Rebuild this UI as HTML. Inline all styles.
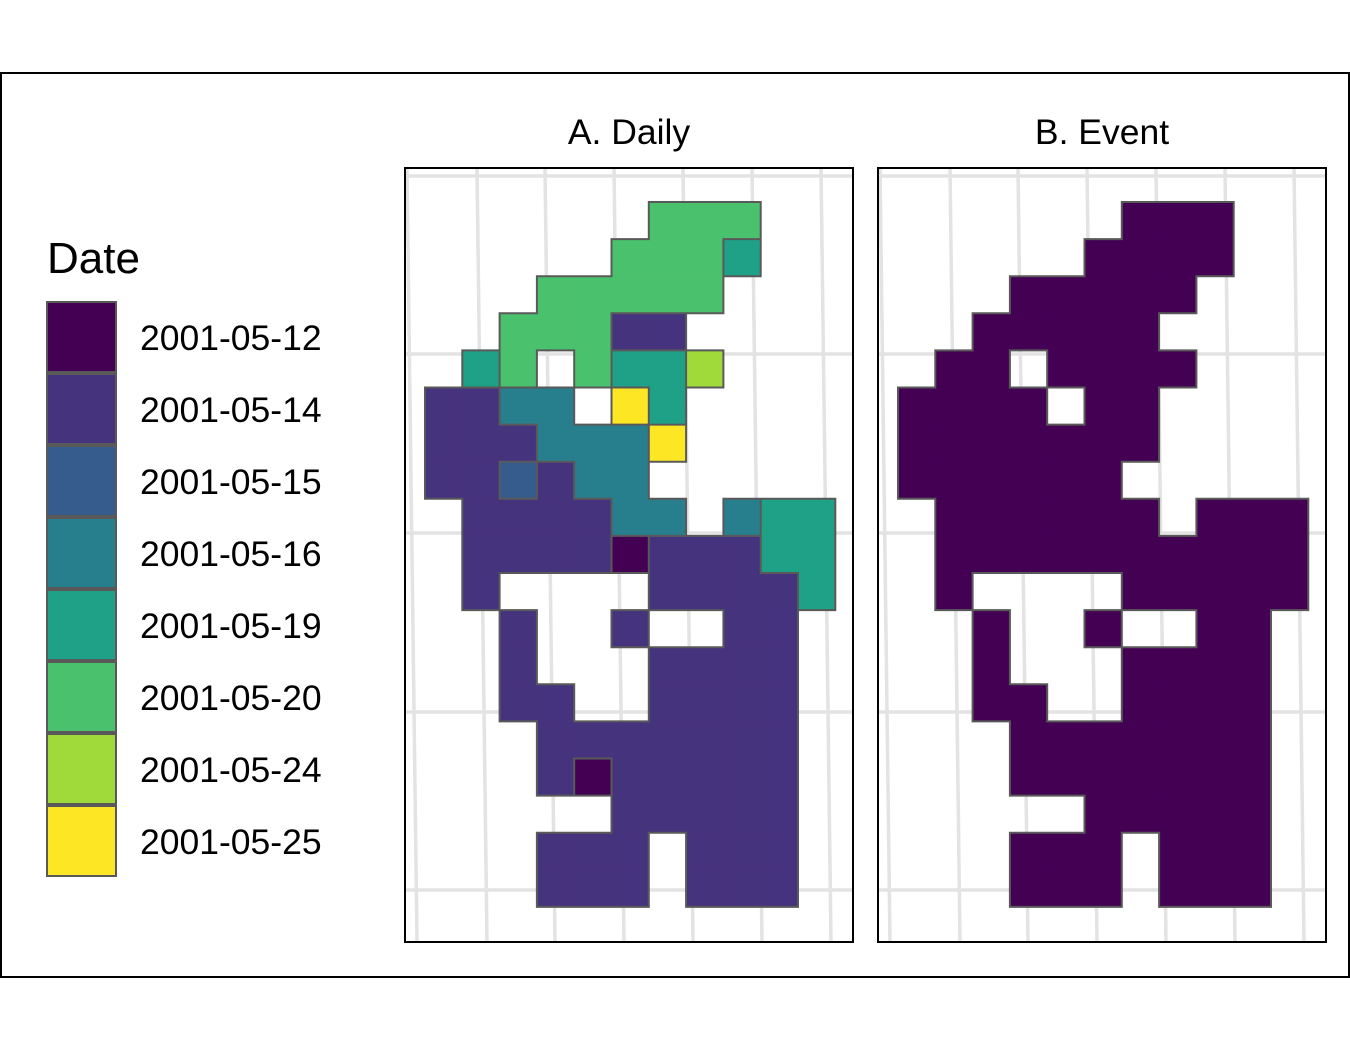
<!DOCTYPE html>
<html><head><meta charset="utf-8">
<style>
body{margin:0;background:#fff;}
svg text{font-family:"Liberation Sans",Arial,sans-serif;fill:#000;}
</style></head>
<body>
<svg id="chart" width="1350" height="1050" xmlns="http://www.w3.org/2000/svg">
<rect x="1" y="73" width="1348" height="904" fill="#fff" stroke="#000" stroke-width="2"/>
<text x="629" y="144" font-size="35.5" text-anchor="middle" fill="#1a1a1a">A. Daily</text>
<text x="1102" y="144" font-size="35.5" text-anchor="middle" fill="#1a1a1a">B. Event</text>
<text x="47" y="273" font-size="44">Date</text>
<g id="legend"></g>
<g id="pA"></g>
<g id="pB"></g>
</svg>
<script>
const dateLabels = ["2001-05-12","2001-05-14","2001-05-15","2001-05-16","2001-05-19","2001-05-20","2001-05-24","2001-05-25"];
const dateCodes = ["a","b","c","d","e","f","g","h"];
const dateColors = ["#440154","#46337E","#365C8D","#277F8E","#1FA187","#4AC16D","#9FDA3A","#FDE725"];
const dailyGrid = [
"......fff..",
".....fffe..",
"...fffff...",
"..fffbb....",
".ef.feeg...",
"bbdd.he....",
"bbbdddh....",
"bbcbdd.....",
".bbbbdd.dee",
".bbbbabbbee",
".b....bbbbe",
"..b..b..bb.",
"..b...bbbb.",
"..bb..bbbb.",
"...bbbbbbb.",
"...babbbbb.",
".....bbbbb.",
"...bbb.bbb.",
"...bbb.bbb."
];
const NS="http://www.w3.org/2000/svg";
function mk(tag,attrs,parent){const e=document.createElementNS(NS,tag);for(const k in attrs)e.setAttribute(k,attrs[k]);parent.appendChild(e);return e;}
const cw=37.3, ch=37.1, gx0=425, gy0=202;
function drawPanel(g,px,grid){
  const off=px-405;
  const fr=mk('rect',{x:px,y:168,width:448,height:774,fill:'#fff',stroke:'none'},g);
  
  
  const cp='clip'+px;
  const cl=mk('clipPath',{id:cp},g);mk('rect',{x:px,y:168,width:448,height:774},cl);
  const gl=mk('g',{'clip-path':'url(#'+cp+')'},g);
  [176,354,533,712,890].forEach(y=>{const l=mk('line',{x1:px,x2:px+448,y1:y,y2:y,stroke:'#e3e3e3','stroke-width':3.5},gl);
    });
  [338,407,477,545,614,683,752,821,890].forEach(x=>{const l=mk('line',{x1:x+off,x2:x+off+10,y1:168,y2:942,stroke:'#e3e3e3','stroke-width':3.5},gl);
    });
  const ox=gx0+off;
  const R=grid.length,C=grid[0].length;
  for(let r=0;r<R;r++)for(let c=0;c<C;c++){const v=grid[r][c];if(v==='.')continue;
    const cell=mk('rect',{x:ox+c*cw,y:gy0+r*ch,width:cw+0.6,height:ch+0.6,fill:dateColors[dateCodes.indexOf(v)]},g);
    }
  const at=(r,c)=>(r<0||r>=R||c<0||c>=C)?'.':grid[r][c];
  let d='';
  for(let r=0;r<R;r++)for(let c=0;c<C;c++){const v=at(r,c);
    const x=ox+c*cw,y=gy0+r*ch;
    if(v!==at(r,c+1)) d+=`M${x+cw},${y}V${y+ch}`;
    if(v!==at(r+1,c)) d+=`M${x},${y+ch}H${x+cw}`;
    if(c===0&&v!=='.') d+=`M${x},${y}V${y+ch}`;
    if(r===0&&v!=='.') d+=`M${x},${y}H${x+cw}`;
  }
  const b=mk('path',{d:d,stroke:'#595959','stroke-width':2,fill:'none','stroke-linecap':'square'},g);
  
  const f=mk('rect',{x:px,y:168,width:448,height:774,fill:'none',stroke:'#000','stroke-width':2},g);
  
}
drawPanel(document.getElementById('pA'),405,dailyGrid);
const eventGrid=dailyGrid.map(s=>s.replace(/[^.]/g,'a'));
drawPanel(document.getElementById('pB'),878,eventGrid);
const lg=document.getElementById('legend');
dateLabels.forEach((lab,i)=>{
  const y=302+i*72;
  const k=mk('rect',{x:47,y:y,width:69,height:70,fill:dateColors[i],stroke:'#595959','stroke-width':2},lg);
  
  const t=mk('text',{x:140,y:y+48,'font-size':35.5},lg);t.textContent=lab;
  
});
</script>
</body></html>
